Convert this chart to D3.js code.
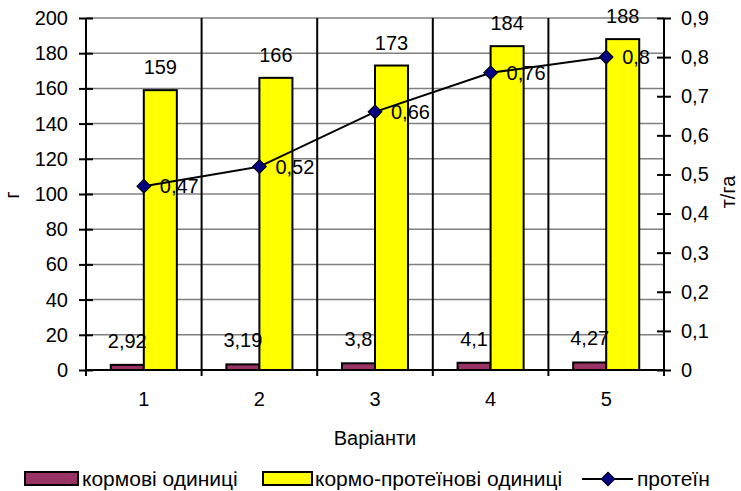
<!DOCTYPE html>
<html>
<head>
<meta charset="utf-8">
<script src="https://cdn.jsdelivr.net/npm/d3@7"></script>
<style>
  body { margin: 0; background: #fff; }
  svg { font-family: Arial, "Liberation Sans", sans-serif; }
</style>
</head>
<body>
<svg id="chart" width="741" height="491"></svg>
<script>
const variants = ['1', '2', '3', '4', '5'];
const feedUnits = [2.92, 3.19, 3.8, 4.1, 4.27];
const proteinUnits = [159, 166, 173, 184, 188];
const protein = [0.47, 0.52, 0.66, 0.76, 0.8];
const leftTicks = [0, 20, 40, 60, 80, 100, 120, 140, 160, 180, 200];
const rightTicks = [0, 0.1, 0.2, 0.3, 0.4, 0.5, 0.6, 0.7, 0.8, 0.9];
const seriesNames = ['кормові одиниці', 'кормо-протеїнові одиниці', 'протеїн'];

const fs = 20;
const svg = d3.select('#chart');

const x = d3.scaleBand().domain(variants).range([86, 664]);
const sub = d3.scaleBand().domain([0, 1]).range([0, x.bandwidth()]).paddingOuter(0.75);
const y = d3.scaleLinear().domain([0, 200]).range([370, 18]);
const yR = d3.scaleLinear().domain([0, 0.9]).range([370, 18]);

// horizontal grid
svg.append('g').selectAll('line')
  .data(leftTicks.slice(1))
  .enter().append('line')
  .attr('x1', 86).attr('x2', 664)
  .attr('y1', d => y(d)).attr('y2', d => y(d))
  .attr('stroke', '#808080').attr('stroke-width', 1.5);

// vertical category dividers
const bounds = variants.slice(1).map(v => x(v));
svg.append('g').selectAll('line')
  .data(bounds)
  .enter().append('line')
  .attr('x1', d => d).attr('x2', d => d)
  .attr('y1', 18).attr('y2', 376)
  .attr('stroke', '#000').attr('stroke-width', 2);

// bars
const bars = svg.append('g');
bars.selectAll('.b0')
  .data(feedUnits)
  .enter().append('rect')
  .attr('x', (d, i) => x(variants[i]) + sub(0))
  .attr('y', d => y(d))
  .attr('width', sub.bandwidth())
  .attr('height', d => y(0) - y(d))
  .attr('fill', '#993366').attr('stroke', '#000').attr('stroke-width', 2);
bars.selectAll('.b1')
  .data(proteinUnits)
  .enter().append('rect')
  .attr('x', (d, i) => x(variants[i]) + sub(1))
  .attr('y', d => y(d))
  .attr('width', sub.bandwidth())
  .attr('height', d => y(0) - y(d))
  .attr('fill', '#ffff00').attr('stroke', '#000').attr('stroke-width', 2);

// axes
const leftAxis = svg.append('g')
  .attr('transform', 'translate(86,0)')
  .call(d3.axisLeft(y).tickValues(leftTicks).tickSize(7).tickPadding(11));
leftAxis.selectAll('.tick line').attr('x1', 7);
leftAxis.select('.domain').attr('d', 'M0,18V370');

const rightAxis = svg.append('g')
  .attr('transform', 'translate(664,0)')
  .call(d3.axisRight(yR).tickValues(rightTicks).tickSize(7).tickPadding(10)
    .tickFormat(d => String(d).replace('.', ',')));
rightAxis.selectAll('.tick line').attr('x1', -7);
rightAxis.select('.domain').attr('d', 'M0,18V370');

const bottomAxis = svg.append('g')
  .attr('transform', 'translate(0,370)')
  .call(d3.axisBottom(x).tickSize(0).tickPadding(22));
bottomAxis.select('.domain').attr('d', 'M86,0H664');
svg.append('g').selectAll('line')
  .data([86, 664])
  .enter().append('line')
  .attr('x1', d => d).attr('x2', d => d)
  .attr('y1', 363).attr('y2', 376)
  .attr('stroke', '#000').attr('stroke-width', 2);

svg.selectAll('.domain').attr('stroke', '#000').attr('stroke-width', 2);
svg.selectAll('.tick line').attr('stroke', '#000').attr('stroke-width', 2);
svg.selectAll('.tick text').attr('font-size', fs).attr('fill', '#000')
  .attr('font-family', 'Arial, "Liberation Sans", sans-serif');

// line series
const cx = i => x(variants[i]) + x.bandwidth() / 2;
const line = d3.line().x((d, i) => cx(i)).y(d => yR(d));
svg.append('path')
  .datum(protein)
  .attr('d', line)
  .attr('fill', 'none').attr('stroke', '#000').attr('stroke-width', 2);
svg.append('g').selectAll('path')
  .data(protein)
  .enter().append('path')
  .attr('d', d3.symbol(d3.symbolSquare, 95))
  .attr('transform', (d, i) => `translate(${cx(i)},${yR(d)}) rotate(45)`)
  .attr('fill', '#000080').attr('stroke', '#000').attr('stroke-width', 1);

// value labels
const labels = svg.append('g').attr('font-size', fs).attr('fill', '#000');
labels.selectAll('.l0')
  .data(feedUnits)
  .enter().append('text')
  .attr('x', (d, i) => x(variants[i]) + sub(0) + sub.bandwidth() / 2)
  .attr('y', d => y(d) - 17)
  .attr('text-anchor', 'middle')
  .text(d => String(d).replace('.', ','));
labels.selectAll('.l1')
  .data(proteinUnits)
  .enter().append('text')
  .attr('x', (d, i) => x(variants[i]) + sub(1) + sub.bandwidth() / 2)
  .attr('y', d => y(d) - 16)
  .attr('text-anchor', 'middle')
  .text(d => d);
labels.selectAll('.l2')
  .data(protein)
  .enter().append('text')
  .attr('x', (d, i) => cx(i) + 16)
  .attr('y', d => yR(d) + 7)
  .text(d => String(d).replace('.', ','));

// axis titles
svg.append('text')
  .attr('x', 375).attr('y', 445)
  .attr('text-anchor', 'middle').attr('font-size', fs)
  .text('Варіанти');
svg.append('text')
  .attr('transform', 'translate(19,195) rotate(-90)')
  .attr('text-anchor', 'middle').attr('font-size', fs)
  .text('г');
svg.append('text')
  .attr('transform', 'translate(735,192) rotate(-90)')
  .attr('text-anchor', 'middle').attr('font-size', fs)
  .text('т/га');

// legend
const legend = svg.append('g').attr('font-size', 21);
legend.append('rect')
  .attr('x', 25).attr('y', 472).attr('width', 53).attr('height', 13)
  .attr('fill', '#993366').attr('stroke', '#000').attr('stroke-width', 2);
legend.append('text').attr('x', 82).attr('y', 486).text(seriesNames[0]);
legend.append('rect')
  .attr('x', 263).attr('y', 472).attr('width', 49).attr('height', 13)
  .attr('fill', '#ffff00').attr('stroke', '#000').attr('stroke-width', 2);
legend.append('text').attr('x', 315).attr('y', 486).text(seriesNames[1]);
legend.append('line')
  .attr('x1', 582).attr('x2', 633).attr('y1', 479).attr('y2', 479)
  .attr('stroke', '#000').attr('stroke-width', 2);
legend.append('path')
  .attr('d', d3.symbol(d3.symbolSquare, 95))
  .attr('transform', 'translate(608,479) rotate(45)')
  .attr('fill', '#000080').attr('stroke', '#000').attr('stroke-width', 1);
legend.append('text').attr('x', 637).attr('y', 486).text(seriesNames[2]);
</script>
</body>
</html>
